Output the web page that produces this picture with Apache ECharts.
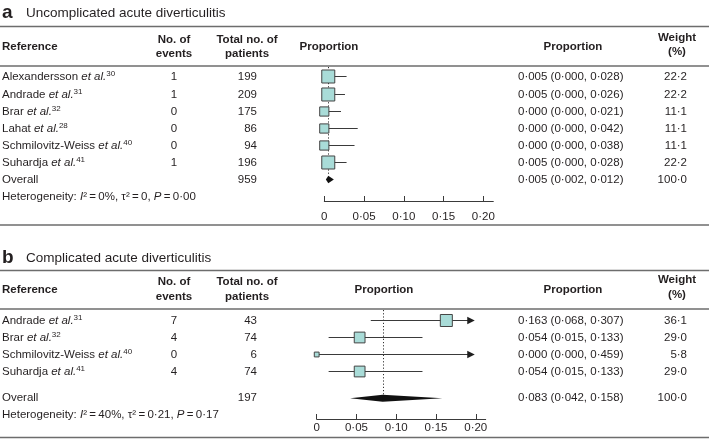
<!DOCTYPE html>
<html><head><meta charset="utf-8">
<script src="https://cdn.jsdelivr.net/npm/echarts@6/dist/echarts.min.js"></script>
<style>html,body{margin:0;padding:0;background:#fff}#c{width:709px;height:440px}</style>
</head><body><div id="c"></div>
<script>
// ---------- Panel a: Uncomplicated acute diverticulitis ----------
const titleA = 'Uncomplicated acute diverticulitis';
const authorsA = ['Alexandersson', 'Andrade', 'Brar', 'Lahat', 'Schmilovitz-Weiss', 'Suhardja'];
const refsA = ['30', '31', '32', '28', '40', '41'];
const eventsA = [1, 1, 0, 0, 0, 1];
const totalsA = [199, 209, 175, 86, 94, 196];
const propA = [0.005, 0.005, 0.000, 0.000, 0.000, 0.005];
const lowA = [0.000, 0.000, 0.000, 0.000, 0.000, 0.000];
const highA = [0.028, 0.026, 0.021, 0.042, 0.038, 0.028];
const weightA = [22.2, 22.2, 11.1, 11.1, 11.1, 22.2];
const overallA = [959, 0.005, 0.002, 0.012, 100.0]; // total, estimate, low, high, weight
const hetA = ['0%', '0', '0\u00b700'];                // I², tau², P

// ---------- Panel b: Complicated acute diverticulitis ----------
const titleB = 'Complicated acute diverticulitis';
const authorsB = ['Andrade', 'Brar', 'Schmilovitz-Weiss', 'Suhardja'];
const refsB = ['31', '32', '40', '41'];
const eventsB = [7, 4, 0, 4];
const totalsB = [43, 74, 6, 74];
const propB = [0.163, 0.054, 0.000, 0.054];
const lowB = [0.068, 0.015, 0.000, 0.015];
const highB = [0.307, 0.133, 0.459, 0.133];
const weightB = [36.1, 29.0, 5.8, 29.0];
const overallB = [197, 0.083, 0.042, 0.158, 100.0];
const hetB = ['40%', '0\u00b721', '0\u00b717'];

const xTicks = [0, 0.05, 0.10, 0.15, 0.20];

// ---------- helpers ----------
const FONT = '"Liberation Sans", Arial, Helvetica, sans-serif';
const TXT = '#231f20';
const FS = 11.5;
const ARROW_AT = 0.2;
const fmt3 = v => v.toFixed(3).replace('.', '\u00b7');
const fmt1 = v => v.toFixed(1).replace('.', '\u00b7');
const ciText = (e, l, h) => fmt3(e) + ' (' + fmt3(l) + ', ' + fmt3(h) + ')';
const COL = { name: 2, events: 174, total: 257, ci: 518, weight: 687 };

const richStyles = {
  n: { fontSize: FS, fontFamily: FONT, fill: TXT, lineHeight: 14 },
  i: { fontSize: FS, fontFamily: FONT, fill: TXT, fontStyle: 'italic', lineHeight: 14 },
  s: { fontSize: 8, fontFamily: FONT, fill: TXT, lineHeight: 8, verticalAlign: 'top' }
};

function txt(x, y, text, align, extra) {
  return { type: 'text', x: x, y: y, silent: true,
    style: Object.assign({ text: text, align: align || 'left', verticalAlign: 'middle',
      fill: TXT, fontSize: FS, fontFamily: FONT }, extra || {}) };
}
function richTxt(x, y, text) {
  return { type: 'text', x: x, y: y, silent: true,
    style: { text: text, align: 'left', verticalAlign: 'middle', rich: richStyles,
      fill: TXT, fontSize: FS, fontFamily: FONT } };
}

function makeStudyRender(authors, refs, events, totals, k) {
  return function (params, api) {
    const i = params.dataIndex;
    const est = api.value(0), row = api.value(1), lo = api.value(2), hi = api.value(3), w = api.value(4);
    const c = api.coord([est, row]);
    const y = Math.round(c[1]) + 0.5;
    const p0 = api.coord([lo, row]);
    const p1 = api.coord([Math.min(hi, ARROW_AT), row]);
    const s = k * Math.sqrt(w);
    const ch = [];
    if (hi > ARROW_AT) {
      const tip = p1[0] - 1;
      ch.push({ type: 'line', shape: { x1: p0[0], y1: y, x2: tip - 4, y2: y }, style: { stroke: '#3a3a3a', lineWidth: 1 } });
      ch.push({ type: 'polygon', shape: { points: [[tip, y], [tip - 7.5, y - 3.8], [tip - 7.5, y + 3.8]] }, style: { fill: '#1e1e1e' } });
    } else {
      ch.push({ type: 'line', shape: { x1: p0[0], y1: y, x2: p1[0], y2: y }, style: { stroke: '#3a3a3a', lineWidth: 1 } });
    }
    ch.push({ type: 'rect', shape: { x: c[0] - s / 2, y: y - s / 2, width: s, height: s },
      style: { fill: '#a9dcd8', stroke: '#444', lineWidth: 1 } });
    ch.push(richTxt(COL.name, y, '{n|' + authors[i] + ' }{i|et al.}{s|' + refs[i] + '}'));
    ch.push(txt(COL.events, y, String(events[i]), 'center'));
    ch.push(txt(COL.total, y, String(totals[i]), 'right'));
    ch.push(txt(COL.ci, y, ciText(est, lo, hi), 'left'));
    ch.push(txt(COL.weight, y, fmt1(w), 'right'));
    return { type: 'group', children: ch };
  };
}

function makeOverallRender(ov, het, topRow, dh) {
  return function (params, api) {
    const est = api.value(0), row = api.value(1), lo = api.value(2), hi = api.value(3), w = api.value(4), hetRow = api.value(5);
    const c = api.coord([est, row]);
    const y = c[1];
    const pl = api.coord([lo, row]), ph = api.coord([hi, row]);
    const top = api.coord([est, topRow]);
    const hy = api.coord([est, hetRow])[1];
    const ch = [];
    ch.push({ type: 'line', shape: { x1: Math.round(c[0]) + 0.5, y1: top[1] + 1, x2: Math.round(c[0]) + 0.5, y2: y - dh },
      style: { stroke: '#333', lineWidth: 1, lineDash: [1.2, 2] } });
    ch.push({ type: 'polygon', shape: { points: [[pl[0], y], [c[0], y - dh], [ph[0], y], [c[0], y + dh]] },
      style: { fill: '#111' } });
    ch.push(txt(COL.name, y, 'Overall', 'left'));
    ch.push(txt(COL.total, y, String(ov[0]), 'right'));
    ch.push(txt(COL.ci, y, ciText(est, lo, hi), 'left'));
    ch.push(txt(COL.weight, y, fmt1(w), 'right'));
    ch.push(richTxt(COL.name, hy,
      '{n|Heterogeneity: }{i|I}{n|\u00b2\u2009=\u2009' + het[0] + ', \u03c4\u00b2\u2009=\u2009' + het[1] + ', }{i|P}{n|\u2009=\u2009' + het[2] + '}'));
    return { type: 'group', children: ch };
  };
}

const axisLabelFmt = v => (v === 0 ? '0' : v.toFixed(2).replace('.', '\u00b7'));
function makeXAxis(gridIndex, margin) {
  return {
    gridIndex: gridIndex, type: 'value', position: 'bottom', min: 0, max: 0.2125,
    axisLine: { show: true, onZero: false, lineStyle: { color: '#3a3a3a', width: 1 } },
    axisTick: { show: true, inside: true, length: 5, customValues: xTicks, lineStyle: { color: '#3a3a3a', width: 1 } },
    axisLabel: { customValues: xTicks, formatter: axisLabelFmt, color: TXT, fontSize: FS, fontFamily: FONT, margin: margin },
    splitLine: { show: false }
  };
}

// ---------- static layout: titles, headers, rules ----------
function rule(y) {
  return { type: 'line', shape: { x1: 0, y1: y, x2: 709, y2: y }, style: { stroke: '#6d6d6d', lineWidth: 1.5 }, silent: true };
}
function gtxt(x, y, text, align, extra) {
  return { type: 'text', x: x, y: y, silent: true,
    style: Object.assign({ text: text, align: align, verticalAlign: 'middle', fill: TXT,
      fontSize: FS, fontFamily: FONT }, extra || {}) };
}
const bold = { fontWeight: 'bold' };
function headers(yMid, y1, y2, propCenter) {
  return [
    gtxt(COL.name, yMid, 'Reference', 'left', bold),
    gtxt(174, y1, 'No. of', 'center', bold), gtxt(174, y2, 'events', 'center', bold),
    gtxt(247, y1, 'Total no. of', 'center', bold), gtxt(247, y2, 'patients', 'center', bold),
    gtxt(propCenter, yMid, 'Proportion', 'center', bold),
    gtxt(573, yMid, 'Proportion', 'center', bold),
    gtxt(677, y1 - 2.5, 'Weight', 'center', bold), gtxt(677, y2 - 1.5, '(%)', 'center', bold)
  ];
}
const graphics = [
  gtxt(2, 13, 'a', 'left', { fontWeight: 'bold', fontSize: 19 }),
  gtxt(26, 13.5, titleA, 'left', { fontSize: 13.5 }),
  rule(26.5), rule(66), rule(225),
  ...headers(46.5, 40, 53.5, 329),
  gtxt(2, 257.5, 'b', 'left', { fontWeight: 'bold', fontSize: 19 }),
  gtxt(26, 258, titleB, 'left', { fontSize: 13.5 }),
  rule(270.5), rule(309), rule(437.5),
  ...headers(290, 282, 296.5, 384)
];

const chart = echarts.init(document.getElementById('c'), null, { renderer: 'canvas' });
chart.setOption({
  animation: false,
  backgroundColor: '#ffffff',
  textStyle: { fontFamily: FONT },
  graphic: { elements: graphics },
  grid: [
    { left: 324.3, top: 66, width: 169, height: 135 },
    { left: 316.7, top: 309, width: 169, height: 110 }
  ],
  xAxis: [makeXAxis(0, 10), makeXAxis(1, 2.5)],
  yAxis: [
    { gridIndex: 0, type: 'value', inverse: true, min: -0.6, max: 7.25, show: false },
    { gridIndex: 1, type: 'value', inverse: true, min: -0.65, max: 5.82, show: false }
  ],
  series: [
    { type: 'custom', xAxisIndex: 0, yAxisIndex: 0, clip: false,
      renderItem: makeOverallRender(overallA, hetA, -0.6, 3.8),
      encode: { x: 0, y: 1 },
      data: [[overallA[1], 6, overallA[2], overallA[3], overallA[4], 7]] },
    { type: 'custom', xAxisIndex: 0, yAxisIndex: 0, clip: false,
      renderItem: makeStudyRender(authorsA, refsA, eventsA, totalsA, 2.76),
      encode: { x: 0, y: 1 },
      data: propA.map((v, i) => [v, i, lowA[i], highA[i], weightA[i]]) },
    { type: 'custom', xAxisIndex: 1, yAxisIndex: 1, clip: false,
      renderItem: makeOverallRender(overallB, hetB, -0.65, 3.5),
      encode: { x: 0, y: 1 },
      data: [[overallB[1], 4.6, overallB[2], overallB[3], overallB[4], 5.55]] },
    { type: 'custom', xAxisIndex: 1, yAxisIndex: 1, clip: false,
      renderItem: makeStudyRender(authorsB, refsB, eventsB, totalsB, 2.0),
      encode: { x: 0, y: 1 },
      data: propB.map((v, i) => [v, i, lowB[i], highB[i], weightB[i]]) }
  ]
});
</script>
</body></html>
